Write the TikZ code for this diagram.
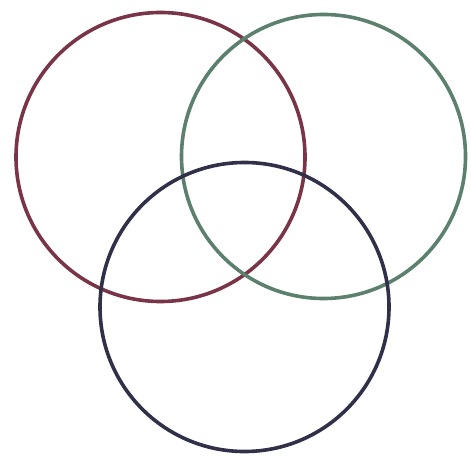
\documentclass[tikz,border=0pt]{standalone}
\begin{document}
\begin{tikzpicture}[x=1bp,y=-1bp,
  ring/.style={line width=3.6bp}]
\definecolor{cred}{RGB}{122,52,72}
\definecolor{cgreen}{RGB}{92,128,110}
\definecolor{cblue}{RGB}{48,48,72}
\useasboundingbox (0,0) rectangle (471,459);
\draw[ring,cred] (160.5,157) circle[radius=144.5bp];
\draw[ring,cgreen] (323.5,156.5) circle[radius=142bp];
\draw[ring,cblue] (244.5,307) circle[radius=144.5bp];
\end{tikzpicture}
\end{document}
